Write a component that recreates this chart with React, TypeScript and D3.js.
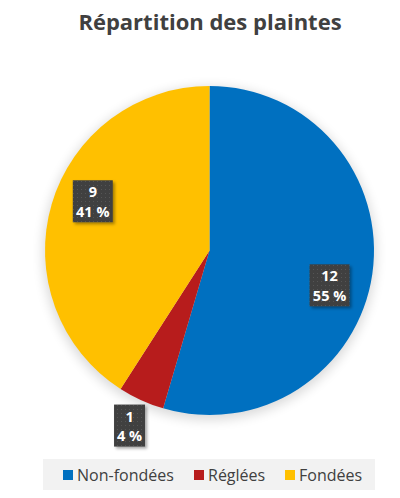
import React from "react";
import * as d3 from "d3";

const categories = ["Non-fondées", "Réglées", "Fondées"];
const values = [12, 1, 9];
const percentLabels = ["55 %", "4 %", "41 %"];
const colors = ["#0070C0", "#B71C1C", "#FFC000"];
const title = "Répartition des plaintes";

// label placement: radius fraction and angle shift (degrees)
const labelRadius = [0.76, 1.17, 0.77];
const labelShift = [8, 0, 6.5];

export default function App() {
  const W = 400, H = 498;
  const cx = 209.5, cy = 250.5, r = 164.5;
  const pie = d3.pie<number>().sort(null).value((d) => d)(values);
  const arc = d3.arc<d3.PieArcDatum<number>>().innerRadius(0).outerRadius(r);
  const font = "'Open Sans', 'Noto Sans', sans-serif";

  const legendX = [63, 194, 285];

  return (
    <svg width={W} height={H} style={{ position: "absolute", left: 0, top: 0 }}>
      <defs>
        <pattern id="dots" width="4" height="4" patternUnits="userSpaceOnUse">
          <rect width="4" height="4" fill="#3f3f3f" />
          <rect x="1" y="1" width="1" height="1" fill="#555" />
        </pattern>
        <filter id="glow" x="-20%" y="-20%" width="140%" height="140%">
          <feGaussianBlur stdDeviation="6" />
        </filter>
        <filter id="boxShadow" x="-30%" y="-30%" width="160%" height="160%">
          <feDropShadow dx="2" dy="2" stdDeviation="1.5" floodColor="#000" floodOpacity="0.35" />
        </filter>
      </defs>
      <rect width={W} height={H} fill="#fff" />
      <text x={210} y={30} textAnchor="middle" fontFamily={font} fontWeight="bold" fontSize={22} fill="#404040">
        {title}
      </text>
      <circle cx={cx} cy={cy + 3} r={r + 2} fill="#000" opacity={0.15} filter="url(#glow)" />
      <g transform={`translate(${cx},${cy})`}>
        {pie.map((d, i) => (
          <path key={i} d={arc(d) || ""} fill={colors[i]} />
        ))}
      </g>
      {pie.map((d, i) => {
        const mid = (d.startAngle + d.endAngle) / 2 + (labelShift[i] * Math.PI) / 180;
        const lr = r * labelRadius[i];
        const x = cx + Math.sin(mid) * lr;
        const y = cy - Math.cos(mid) * lr;
        const bw = percentLabels[i].length > 3 ? 40 : 31;
        const bh = 42;
        return (
          <g key={"l" + i}>
            <rect x={x - bw / 2} y={y - bh / 2} width={bw} height={bh} fill="url(#dots)" filter="url(#boxShadow)" />
            <text x={x} y={y - 4} textAnchor="middle" fontFamily={font} fontWeight="bold" fontSize={14.5} fill="#fff">
              {values[i]}
            </text>
            <text x={x} y={y + 15.5} textAnchor="middle" fontFamily={font} fontWeight="bold" fontSize={14.5} fill="#fff">
              {percentLabels[i]}
            </text>
          </g>
        );
      })}
      <rect x={43} y={459} width={332} height={31} fill="#f2f2f2" />
      {categories.map((c, i) => (
        <g key={"lg" + i}>
          <rect x={legendX[i]} y={470} width={10} height={10} fill={colors[i]} />
          <text x={legendX[i] + 14} y={480.5} fontFamily={font} fontSize={16} fill="#404040">
            {c}
          </text>
        </g>
      ))}
    </svg>
  );
}
